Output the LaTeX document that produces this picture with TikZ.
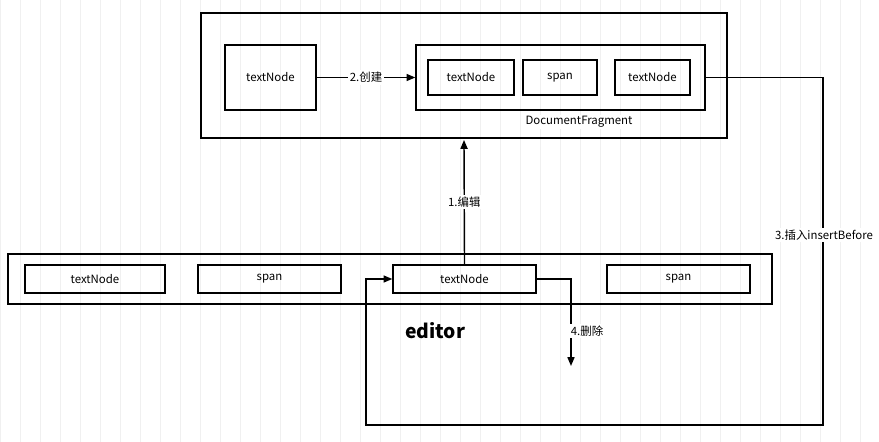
\documentclass[tikz,border=0pt]{standalone}
\usepackage{fontspec}
\setmainfont{Noto Sans CJK SC}
\usetikzlibrary{arrows.meta}

\begin{document}
\begin{tikzpicture}[x=0.02cm, y=-0.02cm,
    box/.style={draw, line width=0.8pt, inner sep=0pt, font=\fontsize{6.5}{8}\selectfont},
    conn/.style={draw, line width=0.8pt, -{Triangle[length=5pt,width=4pt]}},
    lbl/.style={fill=white, inner sep=1pt, font=\fontsize{6.5}{8}\selectfont}]
  \useasboundingbox (0,0) rectangle (879,442);
  % grid
  \draw[black!6, step=20] (0,0) grid (879,442);

  % top part
  \draw[line width=0.8pt] (201,13) rectangle (727,138);
  \node[box, minimum width=91*0.02cm, minimum height=65*0.02cm] (src) at (270.5,77.5) {textNode};
  \node[box, minimum width=289*0.02cm, minimum height=65*0.02cm] (frag) at (560.5,77.5) {};
  \node[box, minimum width=86*0.02cm, minimum height=35*0.02cm] (f1) at (471,77.5) {textNode};
  \node[box, minimum width=74*0.02cm, minimum height=35*0.02cm] (f2) at (560,77.5) {span};
  \node[box, minimum width=75*0.02cm, minimum height=35*0.02cm] (f3) at (652.5,77.5) {textNode};
  \node[lbl] (fraglbl) at (579,122) {DocumentFragment};

  % editor
  \node[box, minimum width=764*0.02cm, minimum height=50*0.02cm] (editor) at (390,279) {};
  \node[box, minimum width=140*0.02cm, minimum height=28*0.02cm] (e1) at (95,279) {textNode};
  \node[box, minimum width=143*0.02cm, minimum height=28*0.02cm] (e2) at (269.5,279) {span};
  \node[box, minimum width=143*0.02cm, minimum height=28*0.02cm] (e3) at (464.5,279) {textNode};
  \node[box, minimum width=143*0.02cm, minimum height=28*0.02cm] (e4) at (678.5,279) {span};
  \node[font=\fontsize{11}{13}\selectfont\bfseries] (edlbl) at (435,331) {editor};

  % connectors
  \coordinate (top) at (464,140);
  \draw[conn] (e3.north) -- (top) node[lbl, pos=0.5] {1.编辑};
  \draw[conn] (src.east) -- (frag.west) node[lbl, pos=0.5] {2.创建};
  \coordinate (r1) at (823,77.5);
  \coordinate (r2) at (823,425);
  \coordinate (r3) at (366,425);
  \coordinate (r4) at (366,279);
  \draw[conn] (frag.east) -- (r1) -- (r2) -- (r3) -- (r4) -- (e3.west);
  \node[lbl] (inslbl) at (824,235) {3.插入insertBefore};
  \coordinate (d1) at (571,279);
  \coordinate (d2) at (571,366);
  \draw[conn] (e3.east) -- (d1) -- (d2);
  \node[lbl] (dellbl) at (587,331) {4.删除};
\end{tikzpicture}
\end{document}
